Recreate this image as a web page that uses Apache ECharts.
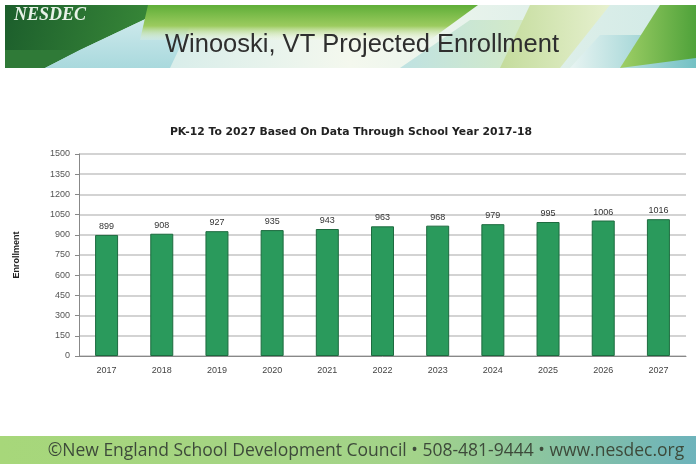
<!DOCTYPE html>
<html>
<head>
<meta charset="utf-8">
<script src="https://cdn.jsdelivr.net/npm/echarts@6/dist/echarts.min.js"></script>
<style>
  html, body { margin: 0; padding: 0; background: #fff; }
  #dom { width: 696px; height: 464px; }
</style>
</head>
<body>
<div id="dom"></div>
<script>
// school years (x axis)
const years = ['2017', '2018', '2019', '2020', '2021', '2022', '2023', '2024', '2025', '2026', '2027']
// projected enrollment, PK-12
const enrollment = [899, 908, 927, 935, 943, 963, 968, 979, 995, 1006, 1016]

const grad = (x, y, x2, y2, stops) => new echarts.graphic.LinearGradient(x, y, x2, y2, stops)

const option = {
    animation: false,
    backgroundColor: '#fff',
    title: {
        text: 'PK-12 To 2027 Based On Data Through School Year 2017-18',
        left: 346,
        textAlign: 'center',
        top: 122,
        textStyle: {
            fontFamily: 'DejaVu Sans',
            fontSize: 10.8,
            fontWeight: 'bold',
            color: '#222'
        }
    },
    grid: {
        left: 79,
        right: 10,
        top: 154,
        height: 202
    },
    xAxis: {
        type: 'category',
        data: years,
        axisLine: { lineStyle: { color: '#888' } },
        axisTick: { show: false },
        axisLabel: {
            fontFamily: 'Liberation Sans',
            fontSize: 9,
            color: '#444',
            margin: 10
        }
    },
    yAxis: {
        type: 'value',
        min: 0,
        max: 1500,
        interval: 150,
        name: 'Enrollment',
        nameLocation: 'middle',
        nameGap: 58,
        nameTextStyle: {
            fontFamily: 'Liberation Sans',
            fontSize: 9,
            fontWeight: 'bold',
            color: '#222'
        },
        axisLine: { show: true, lineStyle: { color: '#888' } },
        axisTick: { show: true, length: 4, lineStyle: { color: '#888' } },
        axisLabel: {
            fontFamily: 'Liberation Sans',
            fontSize: 9,
            color: '#555',
            margin: 9,
            formatter: v => String(v)
        },
        splitLine: { lineStyle: { color: '#c4c4c4', width: 1.5 } }
    },
    series: [{
        type: 'bar',
        data: enrollment,
        barWidth: 23,
        itemStyle: {
            color: '#2a9a5c',
            borderColor: '#1d6b3f',
            borderWidth: 1
        },
        label: {
            show: true,
            position: 'top',
            distance: 4,
            fontFamily: 'Liberation Sans',
            fontSize: 9,
            color: '#333'
        }
    }],
    graphic: [
        // header banner
        { type: 'rect', shape: { x: 5, y: 5, width: 691, height: 63 }, style: { fill: grad(0, 0, 1, 0, [{ offset: 0, color: '#bfe3e6' }, { offset: 0.5, color: '#f4f8ee' }, { offset: 1, color: '#cfe9e6' }]) }, z: -10 },
        { type: 'polygon', shape: { points: [[5, 5], [175, 5], [80, 50], [5, 50]] }, style: { fill: grad(0, 0, 1, 1, [{ offset: 0, color: '#1c5e2c' }, { offset: 1, color: '#3d8f3a' }]) }, z: -9 },
        { type: 'polygon', shape: { points: [[5, 50], [80, 50], [45, 68], [5, 68]] }, style: { fill: '#2f7a37' }, z: -9 },
        { type: 'polygon', shape: { points: [[80, 50], [175, 5], [200, 5], [170, 68], [45, 68]] }, style: { fill: grad(0, 0, 0, 1, [{ offset: 0, color: '#d8eef0' }, { offset: 1, color: '#a9d9dd' }]) }, z: -9 },
        { type: 'polygon', shape: { points: [[148, 5], [478, 5], [430, 40], [140, 40]] }, style: { fill: grad(0, 0, 0, 1, [{ offset: 0, color: '#5fae38' }, { offset: 0.6, color: '#9ccb5f' }, { offset: 1, color: 'rgba(240,246,220,0.2)' }]) }, z: -8 },
        { type: 'polygon', shape: { points: [[400, 68], [470, 20], [560, 20], [520, 68]] }, style: { fill: grad(0, 0, 1, 0, [{ offset: 0, color: '#bfe2e2' }, { offset: 1, color: '#d9ecc0' }]) }, z: -8 },
        { type: 'polygon', shape: { points: [[530, 5], [610, 5], [560, 68], [500, 68]] }, style: { fill: grad(0, 0, 1, 0, [{ offset: 0, color: '#c4dc9c' }, { offset: 1, color: '#e6f0cf' }]) }, z: -8 },
        { type: 'polygon', shape: { points: [[600, 35], [696, 35], [696, 68], [570, 68]] }, style: { fill: grad(0, 0, 1, 0, [{ offset: 0, color: '#e8f4f2' }, { offset: 1, color: '#73c1c4' }]) }, z: -8 },
        { type: 'polygon', shape: { points: [[660, 5], [696, 5], [696, 58], [620, 68]] }, style: { fill: grad(0, 0, 1, 0, [{ offset: 0, color: '#9fcf66' }, { offset: 1, color: '#4fa23a' }]) }, z: -7 },
        { type: 'text', x: 14, y: 6, style: { text: 'NESDEC', fontFamily: 'Liberation Serif', fontStyle: 'italic', fontWeight: 'bold', fontSize: 18, fill: '#e8f2e8' }, z: 5 },
        { type: 'text', x: 362, y: 45, style: { text: 'Winooski, VT Projected Enrollment', fontFamily: 'Liberation Sans', fontSize: 25.5, fill: '#2e2e2e', align: 'center', verticalAlign: 'middle' }, z: 5 },
        // footer band
        { type: 'rect', shape: { x: 0, y: 436, width: 696, height: 28 }, style: { fill: grad(0, 0, 1, 0, [{ offset: 0, color: '#a7d77a' }, { offset: 0.6, color: '#a3d38a' }, { offset: 1, color: '#6db3bb' }]) }, z: -10 },
        { type: 'text', x: 366, y: 451, style: { text: '©New England School Development Council • 508-481-9444 • www.nesdec.org', fontFamily: 'Open Sans', fontSize: 17.5, fill: '#3d4a3a', align: 'center', verticalAlign: 'middle' }, z: 5 }
    ]
}

const myChart = echarts.init(document.getElementById('dom'))
myChart.setOption(option, true)
</script>
</body>
</html>
